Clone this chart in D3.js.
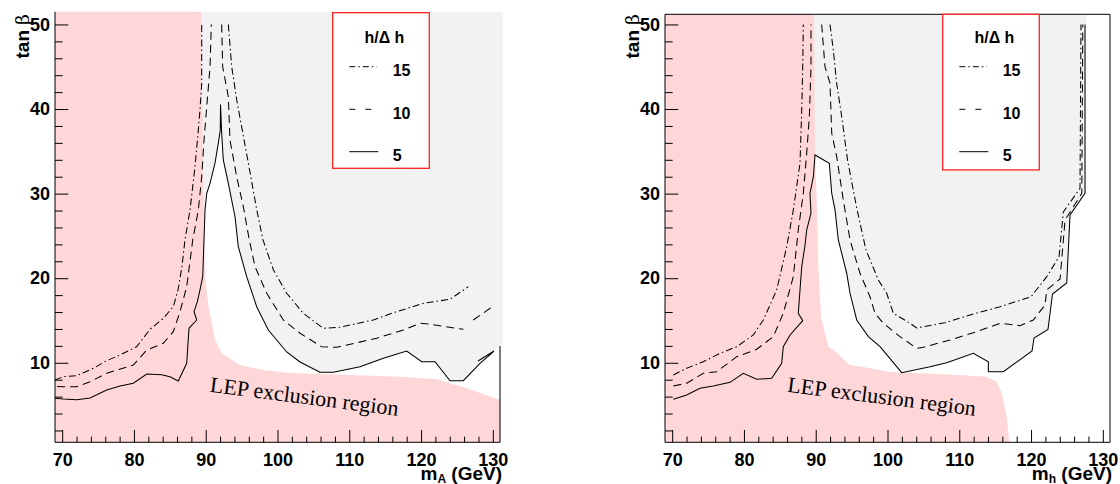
<!DOCTYPE html>
<html><head><meta charset="utf-8">
<script src="https://cdn.jsdelivr.net/npm/d3@7"></script>
<style>body{margin:0;background:#fff}</style>
</head><body><svg id="c" width="1120" height="484"></svg>
<script>
// ---------------- data ----------------
const xMajorTicks = [70, 80, 90, 100, 110, 120, 130];
const xMinorTicks = d3.range(72, 130, 2).filter(v => v % 10 !== 0);
const yMajorTicks = [10, 20, 30, 40, 50];
const yMinorTicks = d3.range(2, 50, 2).filter(v => v % 10 !== 0);
const legendTitle = "h/\u0394 h";
const legendLabels = ["15", "10", "5"];

// Panel A (m_A) contours [m, tanb]
const a_c5 = [[69.0,5.8],[70.16,5.72],[72.02,5.64],[73.88,5.84],[76.2,6.78],[78.06,7.26],[79.91,7.58],[81.78,8.68],[83.87,8.59],[85.02,8.36],[86.18,7.85],[87.35,9.94],[87.67,14.08],[88.74,15.06],[88.37,16.04],[88.83,17.22],[89.2,18.61],[89.58,20.18],[89.76,24.52],[89.9,28.06],[90.14,30.04],[90.6,31.22],[91.29,33.59],[91.75,35.95],[92.03,37.52],[92.06,40.54],[92.22,37.13],[92.45,33.98],[93.15,31.22],[94.08,27.27],[94.54,23.73],[95.71,20.18],[97.1,16.63],[98.72,13.88],[101.28,11.28],[103.14,10.09],[105.92,8.88],[107.78,8.88],[111.5,9.54],[114.74,10.53],[118.0,11.39],[120.09,10.13],[121.95,10.13],[124.04,7.88],[125.89,7.88],[128.22,9.94],[130.17,11.39],[127.94,10.21]];
const a_c5edge = [[131,11.99],[131,0.6]];
const a_c10L = [[69.3,7.2],[70.16,7.17],[72.02,7.17],[73.88,7.76],[76.2,8.76],[79.91,9.74],[81.78,11.51],[84.09,12.31],[85.48,13.68],[86.42,16.04],[87.35,19.0],[88.19,24.52],[88.97,28.07],[89.44,32.0],[89.76,36.34],[90.22,41.07],[90.6,45.0],[90.78,50.0]];
const a_c10R = [[92.22,50.0],[92.36,45.0],[93.15,41.46],[93.38,36.34],[94.31,32.0],[95.24,28.46],[96.07,24.52],[96.87,21.36],[98.5,18.22],[100.81,15.06],[103.14,13.49],[106.16,11.9],[108.25,11.83],[113.82,12.9],[117.53,13.88],[119.86,14.67],[120.97,14.59],[125.89,13.96]];
const a_c10X = [[127.28,15.06],[130.07,16.71]];
const a_c15L = [[69.0,7.97],[70.16,8.36],[72.02,8.47],[74.34,9.35],[76.2,10.25],[78.06,10.92],[80.38,11.9],[82.24,13.96],[84.09,15.26],[85.48,16.63],[86.14,18.61],[86.7,21.45],[87.11,24.52],[87.81,28.07],[88.51,33.19],[88.97,37.52],[89.2,39.89],[89.44,43.04],[89.44,50.0]];
const a_c15R = [[93.15,50.0],[93.62,45.0],[94.32,41.07],[95.24,36.81],[96.24,32.2],[97.11,28.07],[97.98,24.52],[99.42,21.0],[101.28,18.22],[103.6,15.85],[106.38,14.08],[108.71,14.2],[113.35,15.06],[116.14,15.92],[120.32,17.03],[124.04,17.51],[126.59,19.0]];
const a_lep = [[69,51.5],[89.34,51.5],[89.66,30.08],[89.9,20.18],[90.36,16.83],[91.29,12.69],[92.23,11.12],[94.68,9.74],[98.02,9.15],[101.74,8.79],[110.1,8.56],[117.07,8.36],[122.18,8.05],[126.36,6.98],[131,5.6],[131,0.6],[69,0.6]];
const a_gray = [[89.3,51.5],[131.4,51.5],[131.4,12.0],[131,12.0],[131,0.6],[89.3,0.6]];

// Panel h (m_h) contours
const h_c5 = [[70.16,5.68],[72.02,6.19],[73.88,6.98],[75.73,7.26],[78.06,7.69],[79.91,8.76],[81.78,8.05],[83.87,8.17],[85.26,9.94],[85.48,11.9],[86.42,13.29],[88.19,14.98],[87.57,15.85],[87.81,18.61],[88.05,21.36],[88.51,23.93],[88.74,25.7],[89.34,27.68],[89.2,30.04],[89.67,32.0],[89.9,34.57],[91.89,33.59],[92.23,30.04],[92.69,28.07],[93.15,24.52],[94.32,20.58],[94.78,18.22],[95.71,15.06],[97.33,13.09],[98.96,11.9],[101.98,8.83],[105.92,9.54],[108.25,10.01],[111.96,11.12],[114.05,10.13],[114.05,8.95],[116.14,8.95],[120.14,11.39],[120.41,12.93],[122.36,13.94],[122.99,18.13],[124.97,19.43],[125.43,27.48],[127.52,30.04],[127.52,50.0]];
const h_c10L = [[70.16,7.26],[72.02,7.58],[74.34,8.76],[76.2,8.95],[78.99,10.72],[81.78,11.6],[84.09,13.09],[85.48,15.85],[86.88,20.18],[87.57,25.7],[88.27,30.04],[88.74,34.77],[89.11,39.1],[89.34,45.0],[89.34,50.0]];
const h_c10R = [[90.83,50.0],[91.29,45.0],[91.99,43.05],[92.23,37.13],[92.92,34.37],[93.84,29.25],[94.78,24.52],[96.17,20.58],[97.56,17.81],[98.26,15.85],[99.42,14.67],[101.74,13.09],[104.06,11.71],[104.99,11.83],[108.71,12.7],[112.43,13.68],[115.68,14.67],[118.46,14.39],[120.32,15.06],[121.95,16.83],[122.19,18.61],[124.04,19.91],[124.74,26.88],[127.07,30.04],[127.21,50.0]];
const h_c15L = [[70.16,8.56],[72.02,9.35],[74.34,10.13],[76.66,11.12],[78.99,11.9],[81.3,13.29],[82.7,15.06],[84.56,18.61],[85.96,23.73],[86.88,28.07],[87.81,33.59],[88.05,39.89],[88.19,45.0],[88.27,50.0]];
const h_c15R = [[91.99,50.0],[92.45,46.98],[92.92,43.04],[93.62,39.1],[94.43,33.98],[95.71,28.3],[97.0,23.34],[98.72,19.79],[99.89,18.22],[100.81,15.85],[103.14,14.67],[104.06,14.11],[108.01,14.74],[111.5,15.65],[115.68,16.63],[120.0,17.81],[122.19,20.18],[123.9,22.54],[124.5,27.83],[126.82,30.63],[126.96,50.0]];
const h_lep = [[69,51.2],[89.76,51.2],[89.9,35.16],[90.14,29.25],[90.36,21.36],[90.74,15.45],[91.75,11.9],[92.45,11.51],[94.78,9.74],[97.56,9.35],[100.35,8.91],[110.1,8.56],[113.82,8.36],[115.22,7.76],[115.91,6.39],[116.61,3.63],[116.97,0.6],[69,0.6]];
const h_grayTop = [[89.5,51.2],[127.7,51.2],[127.7,50.0]];

// ---------------- drawing ----------------
const svg = d3.select("#c");
const FONT = "'Liberation Sans', Arial, Helvetica, sans-serif";
const PINK = "#ffd7d8", GRAY = "#f2f2f2";
const DASH = "8,5", DASHDOT = "7,3,1.5,3";

const panels = [
  { x0: 55, axisTop: 51.5, frame: false, legendTop: 12.7, sub: "A",
    lep: a_lep,
    gray: a_gray,
    white: a_c5.slice(17, 47).concat([[131,11.99],[131,0.6],[89.58,0.6]]),
    lines: [[a_c5,null],[a_c5edge,null],[a_c10L,DASH],[a_c10R,DASH],[a_c10X,DASH],[a_c15L,DASHDOT],[a_c15R,DASHDOT]],
    lepPos: [90.5, 6.58] },
  { x0: 665, axisTop: 51.2, frame: true, legendTop: 14.3, sub: "h",
    lep: h_lep,
    gray: h_grayTop.concat(h_c5.slice(20).reverse()).concat([[89.5,34.57]]),
    white: null,
    lines: [[h_c5,null],[h_c10L,DASH],[h_c10R,DASH],[h_c15L,DASHDOT],[h_c15R,DASHDOT]],
    lepPos: [85.96, 6.58] }
];

panels.forEach(p => {
  const x = d3.scaleLinear().domain([69, 131]).range([p.x0, p.x0 + 445]);
  const y = d3.scaleLinear().domain([0.6, 51.2]).range([442.3, 14.3]);
  const line = d3.line().x(d => x(d[0])).y(d => y(d[1]));
  const g = svg.append("g");

  g.append("path").attr("d", line(p.gray) + "Z").attr("fill", GRAY);
  if (p.white) g.append("path").attr("d", line(p.white) + "Z").attr("fill", "#fff");
  g.append("path").attr("d", line(p.lep) + "Z").attr("fill", PINK);

  p.lines.forEach(([pts, dash]) => {
    g.append("path").attr("d", line(pts)).attr("fill", "none")
      .attr("stroke", "#000").attr("stroke-width", 1.05)
      .attr("stroke-dasharray", dash);
  });

  // LEP label
  g.append("text")
    .attr("transform", `translate(${x(p.lepPos[0])},${y(p.lepPos[1])}) rotate(7.3)`)
    .attr("font-family", "'Liberation Serif','Times New Roman',serif")
    .attr("font-size", 22).attr("fill", "#000")
    .text("LEP exclusion region");

  // axes
  const yMaj = d3.axisLeft(y).tickValues(yMajorTicks).tickSizeInner(-13.3).tickSizeOuter(0).tickPadding(5).tickFormat(d3.format("d"));
  const yMin = d3.axisLeft(y).tickValues(yMinorTicks).tickSizeInner(-7.7).tickSizeOuter(0).tickFormat("");
  const xMaj = d3.axisBottom(x).tickValues(xMajorTicks).tickSizeInner(-12.3).tickSizeOuter(0).tickPadding(11).tickFormat(d3.format("d"));
  const xMin = d3.axisBottom(x).tickValues(xMinorTicks).tickSizeInner(-5.7).tickSizeOuter(0).tickFormat("");

  [[yMaj, `translate(${p.x0},0)`], [yMin, `translate(${p.x0},0)`],
   [xMaj, `translate(0,442.3)`], [xMin, `translate(0,442.3)`]].forEach(([ax, tr]) => {
    const ga = g.append("g").attr("transform", tr).call(ax);
    ga.select(".domain").remove();
    ga.selectAll("line").attr("stroke", "#000");
    ga.selectAll("text").attr("font-family", FONT).attr("font-size", 18)
      .attr("font-weight", "bold").attr("fill", "#000");
  });

  g.append("line").attr("x1", p.x0).attr("x2", p.x0).attr("y1", y(0.6)).attr("y2", y(p.axisTop)).attr("stroke", "#000");
  g.append("line").attr("x1", p.x0).attr("x2", x(131)).attr("y1", y(0.6)).attr("y2", y(0.6)).attr("stroke", "#000");
  if (p.frame) {
    g.append("line").attr("x1", p.x0).attr("x2", x(131)).attr("y1", y(51.2)).attr("y2", y(51.2)).attr("stroke", "#000");
    g.append("line").attr("x1", x(131)).attr("x2", x(131)).attr("y1", y(51.2)).attr("y2", y(0.6)).attr("stroke", "#000");
  }

  // axis titles
  const yt = g.append("text")
    .attr("transform", `translate(${p.x0 - 26.5},14) rotate(-90)`)
    .attr("text-anchor", "end").attr("fill", "#000");
  yt.append("tspan").attr("font-family", FONT).attr("font-weight", "bold").attr("font-size", 19).text("tan");
  yt.append("tspan").attr("dx", 5).attr("font-family", "'DejaVu Serif','Liberation Serif',serif").attr("font-size", 19).text("\u03B2");

  const xt = g.append("text").attr("x", x(131) + 2).attr("y", 480)
    .attr("text-anchor", "end").attr("font-family", FONT).attr("font-weight", "bold")
    .attr("font-size", 19).attr("fill", "#000");
  xt.append("tspan").text("m");
  xt.append("tspan").attr("font-size", 12).attr("dy", 3).text(p.sub);
  xt.append("tspan").attr("dy", -3).text(" (GeV)");

  // legend
  const L = p.x0 + 277.7, T = p.legendTop;
  const lg = g.append("g");
  lg.append("rect").attr("x", L).attr("y", T).attr("width", 96.6).attr("height", 155.6)
    .attr("fill", "#fff").attr("stroke", "#ff2020").attr("stroke-width", 1.3);
  lg.append("text").attr("x", L + 51.7).attr("y", 42.5).attr("text-anchor", "middle")
    .attr("font-family", FONT).attr("font-weight", "bold").attr("font-size", 16).text(legendTitle);
  const legY = [66.7, 109.3, 151.7], legEnd = [44, 39, 45.6], legDash = ["6,3,1.5,3", "6,10", null], legBase = [76, 119, 160.5];
  legendLabels.forEach((lab, i) => {
    lg.append("line").attr("x1", L + 16.6).attr("x2", L + legEnd[i]).attr("y1", legY[i]).attr("y2", legY[i])
      .attr("stroke", "#000").attr("stroke-dasharray", legDash[i]);
    lg.append("text").attr("x", L + 60).attr("y", legBase[i]).attr("font-family", FONT)
      .attr("font-weight", "bold").attr("font-size", 16).text(lab);
  });
});
</script>
</body></html>
